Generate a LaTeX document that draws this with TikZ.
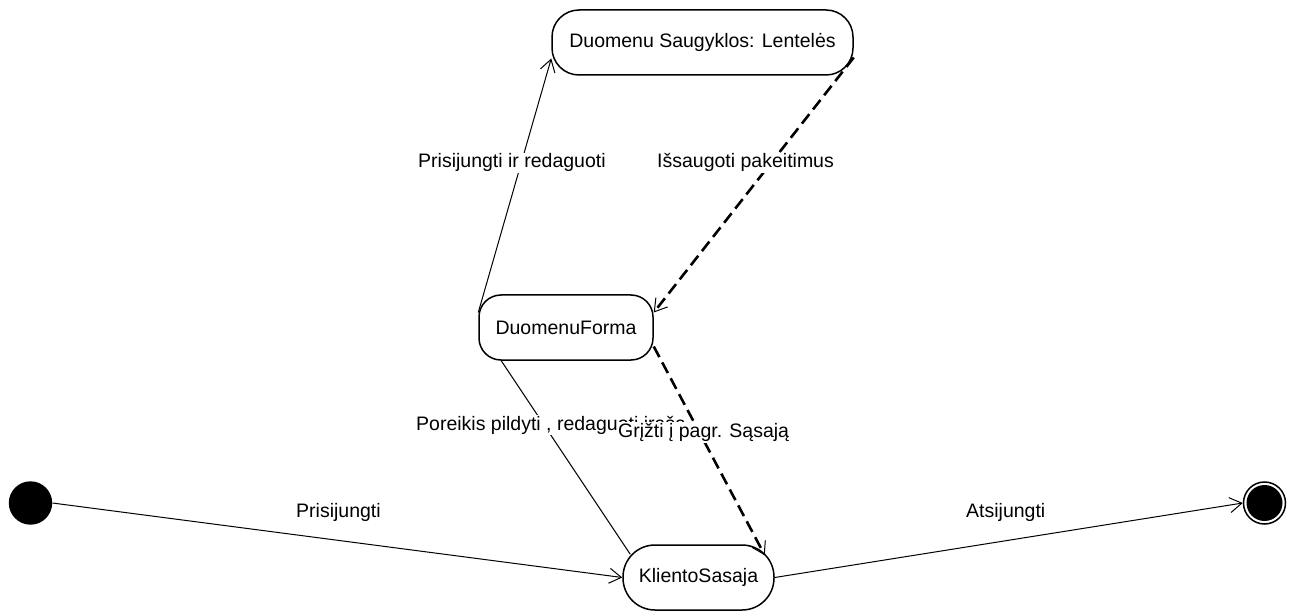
\documentclass[tikz,border=0pt]{standalone}
\usepackage{fontspec}
\setmainfont{Liberation Sans}
\usetikzlibrary{arrows.meta}
\begin{document}
\begin{tikzpicture}[x=1pt,y=-1pt,
  font=\fontsize{19.5}{23}\selectfont,
  state/.style={draw, line width=1.5pt, fill=white, inner sep=0pt},
  lbl/.style={fill=white, inner sep=1pt, anchor=base west},
  tip/.style={-{Straight Barb[length=12pt,width=15pt,line width=1pt]}},
  flow/.style={line width=1pt},
  back/.style={line width=2.6pt, dash pattern=on 12pt off 6pt}]
\useasboundingbox (0,0) rectangle (1298,612);

% states
\node[state, rounded corners=27pt, minimum width=301pt, minimum height=65pt]
  (store) at (702.5,42.5) {Duomenu Saugyklos: Lentelės};
\node[state, rounded corners=22pt, minimum width=174pt, minimum height=65pt]
  (form) at (566,327.5) {DuomenuForma};
\node[state, rounded corners=32pt, minimum width=151pt, minimum height=65pt]
  (client) at (698.5,577.5) {KlientoSasaja};

% initial and final pseudo-states
\node[circle, fill=black, minimum size=43.4pt, inner sep=0pt] (start) at (30.5,503) {};
\node[circle, draw, line width=1.5pt, minimum size=42pt, inner sep=0pt] (stop) at (1264.5,503) {};
\fill (stop.center) circle (18pt);

% transitions
\draw[flow, tip] (start.east) -- (client.west);
\draw[flow, tip] (client.east) -- (stop.west);
\draw[flow, tip] ([yshift=15pt]form.west) -- ([yshift=-16pt]store.west);
\draw[back, tip] ([yshift=-15pt]store.east) -- ([yshift=15pt]form.east);
\draw[back, tip] ([yshift=-19pt]form.east) -- ([xshift=-10pt,yshift=-11pt]client.north east);
\draw[flow] ([xshift=23pt]form.south west) -- ([xshift=8pt,yshift=-10pt]client.north west);

% transition labels
\node[lbl] (l1) at (295,517) {Prisijungti};
\node[lbl] (l2) at (965,517) {Atsijungti};
\node[lbl] (l3) at (417,168) {Prisijungti ir redaguoti};
\node[lbl] (l4) at (656,168) {Išsaugoti pakeitimus};
\node[lbl] (l5) at (415,430) {Poreikis pildyti , redaguoti įrašą};
\node[lbl] (l6) at (617,437.5) {Grįžti į pagr. Sąsają};
\end{tikzpicture}
\end{document}
